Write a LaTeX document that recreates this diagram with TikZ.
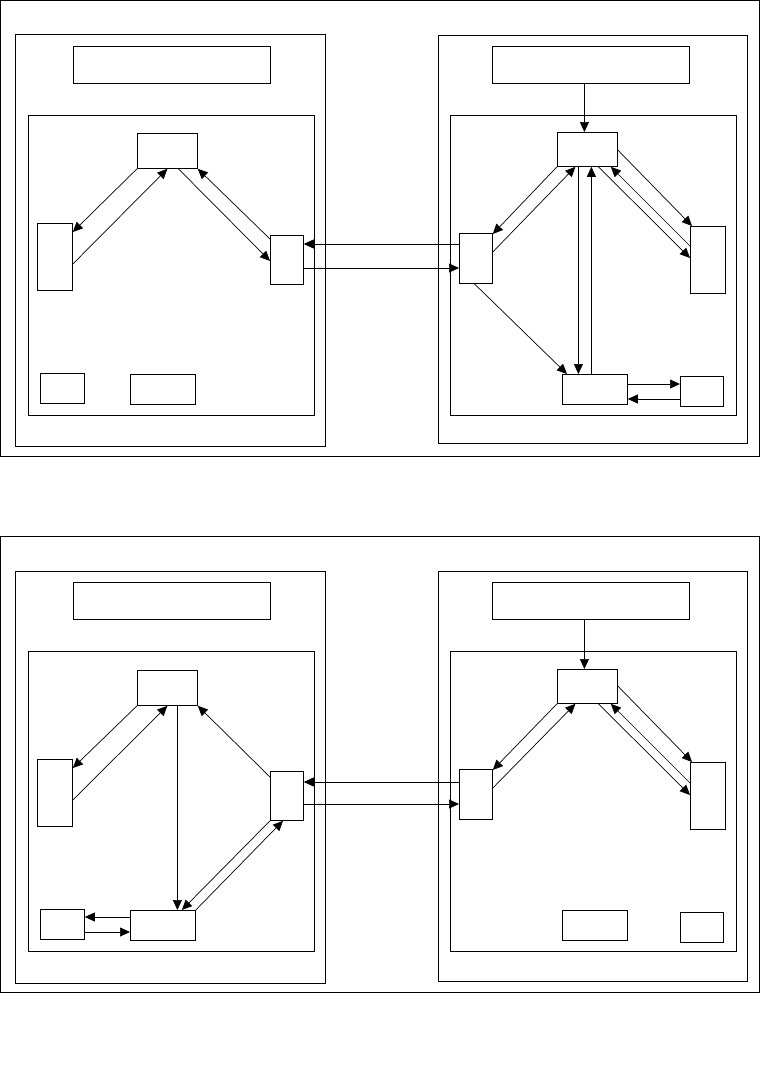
\documentclass[tikz,border=0pt]{standalone}
\usepackage{tikz}
\usetikzlibrary{arrows.meta, positioning, calc}

\begin{document}
\begin{tikzpicture}[
    x=1pt, y=-1pt,
    line width=0.8pt,
    blk/.style={rectangle, draw, inner sep=0pt, anchor=north west},
    titlebox/.style={blk, minimum width=197pt, minimum height=37pt},
    arr/.style={-{Triangle[length=10pt, width=9pt]}, line width=0.7pt}
]
    \useasboundingbox (0,0) rectangle (760,1090);

    % ---- upper picture ----
    \draw (0.5,0.5) rectangle (759.5,456);
    \draw (15,34) rectangle (325,446);
    \draw (28,115) rectangle (314,415);
    \draw (438,35) rectangle (747,443);
    \draw (450,115) rectangle (736,415);

    \node[titlebox] (hA) at (73,46) {};
    \node[blk, minimum width=60pt, minimum height=35pt] (tA) at (137,133) {};
    \node[blk, minimum width=35pt, minimum height=67pt] (lA) at (37,223) {};
    \node[blk, minimum width=33pt, minimum height=49pt] (rA) at (270,235) {};
    \node[blk, minimum width=44pt, minimum height=30pt] (sA) at (40,373) {};
    \node[blk, minimum width=65pt, minimum height=30pt] (bA) at (130,374) {};

    \node[titlebox] (hB) at (492,46) {};
    \node[blk, minimum width=60pt, minimum height=34pt] (tB) at (557,132) {};
    \node[blk, minimum width=33pt, minimum height=50pt] (lB) at (459,233) {};
    \node[blk, minimum width=35pt, minimum height=67pt] (rB) at (690,226) {};
    \node[blk, minimum width=65pt, minimum height=30pt] (bB) at (562,374) {};
    \node[blk, minimum width=43pt, minimum height=30pt] (sB) at (680,376) {};

    \draw[arr] (tA.south west) -- ([yshift=-9pt]lA.north east);
    \draw[arr] ([yshift=-41pt]lA.north east) -- (tA.south);
    \draw[arr] ([xshift=11pt]tA.south) -- ([yshift=-26pt]rA.north west);
    \draw[arr] ([yshift=-4pt]rA.north west) -- (tA.south east);

    \draw[arr] ([yshift=-11pt]lB.north west) -- ([yshift=-9pt]rA.north east);
    \draw[arr] ([yshift=-33pt]rA.north east) -- ([yshift=-35pt]lB.north west);

    \draw[arr] ([xshift=-6.5pt]hB.south) -- ([xshift=-3pt]tB.north);
    \draw[arr] (tB.south west) -- ([yshift=-1pt]lB.north east);
    \draw[arr] ([yshift=-19pt]lB.north east) -- ([xshift=-12pt]tB.south);
    \draw[arr] ([xshift=-9pt]tB.south) -- ([xshift=-16.5pt]bB.north);
    \draw[arr] ([xshift=-3.5pt]bB.north) -- ([xshift=4pt]tB.south);
    \draw[arr] ([yshift=-18pt]tB.north east) -- ([xshift=2pt]rB.north west);
    \draw[arr] ([yshift=-20pt]rB.north west) -- ([xshift=-7pt]tB.south east);
    \draw[arr] ([xshift=11pt]tB.south) -- ([yshift=-32pt]rB.north west);
    \draw[arr] ([xshift=-1.5pt]lB.south) -- ([xshift=5pt]bB.north west);
    \draw[arr] ([yshift=-10pt]bB.north east) -- ([yshift=-8pt]sB.north west);
    \draw[arr] ([yshift=-23pt]sB.north west) -- ([yshift=-25pt]bB.north east);

    % ---- lower picture ----
    \draw (0.5,536) rectangle (759.5,992);
    \draw (15,571) rectangle (325,983);
    \draw (28,651) rectangle (314,951);
    \draw (438,571) rectangle (747,981);
    \draw (450,651) rectangle (736,951);

    \node[titlebox] (hC) at (73,582) {};
    \node[blk, minimum width=60pt, minimum height=35pt] (tC) at (137,670) {};
    \node[blk, minimum width=35pt, minimum height=67pt] (lC) at (37,759) {};
    \node[blk, minimum width=33pt, minimum height=49pt] (rC) at (270,771) {};
    \node[blk, minimum width=44pt, minimum height=30pt] (sC) at (40,909) {};
    \node[blk, minimum width=65pt, minimum height=30pt] (bC) at (130,910) {};

    \node[titlebox] (hD) at (492,582) {};
    \node[blk, minimum width=60pt, minimum height=34pt] (tD) at (557,669) {};
    \node[blk, minimum width=33pt, minimum height=50pt] (lD) at (459,769) {};
    \node[blk, minimum width=35pt, minimum height=67pt] (rD) at (690,762) {};
    \node[blk, minimum width=65pt, minimum height=30pt] (bD) at (562,910) {};
    \node[blk, minimum width=43pt, minimum height=30pt] (sD) at (680,912) {};

    \draw[arr] (tC.south west) -- ([yshift=-9pt]lC.north east);
    \draw[arr] ([yshift=-41pt]lC.north east) -- (tC.south);
    \draw[arr] ([xshift=10pt]tC.south) -- ([xshift=14.5pt]bC.north);
    \draw[arr] ([yshift=-6pt]rC.north west) -- (tC.south east);
    \draw[arr] (rC.south west) -- ([xshift=19pt]bC.north);
    \draw[arr] (bC.north east) -- ([xshift=13pt]rC.south west);
    \draw[arr] ([yshift=-7pt]bC.north west) -- ([yshift=-8pt]sC.north east);
    \draw[arr] ([yshift=-23pt]sC.north east) -- ([yshift=-22pt]bC.north west);

    \draw[arr] ([yshift=-13pt]lD.north west) -- ([yshift=-11pt]rC.north east);
    \draw[arr] ([yshift=-33pt]rC.north east) -- ([yshift=-35pt]lD.north west);

    \draw[arr] ([xshift=-6.5pt]hD.south) -- ([xshift=-3pt]tD.north);
    \draw[arr] (tD.south west) -- ([yshift=-1pt]lD.north east);
    \draw[arr] ([yshift=-19pt]lD.north east) -- ([xshift=-12pt]tD.south);
    \draw[arr] ([yshift=-17pt]tD.north east) -- ([xshift=2pt]rD.north west);
    \draw[arr] ([yshift=-21pt]rD.north west) -- ([xshift=-7pt]tD.south east);
    \draw[arr] ([xshift=11pt]tD.south) -- ([yshift=-33pt]rD.north west);
\end{tikzpicture}
\end{document}
